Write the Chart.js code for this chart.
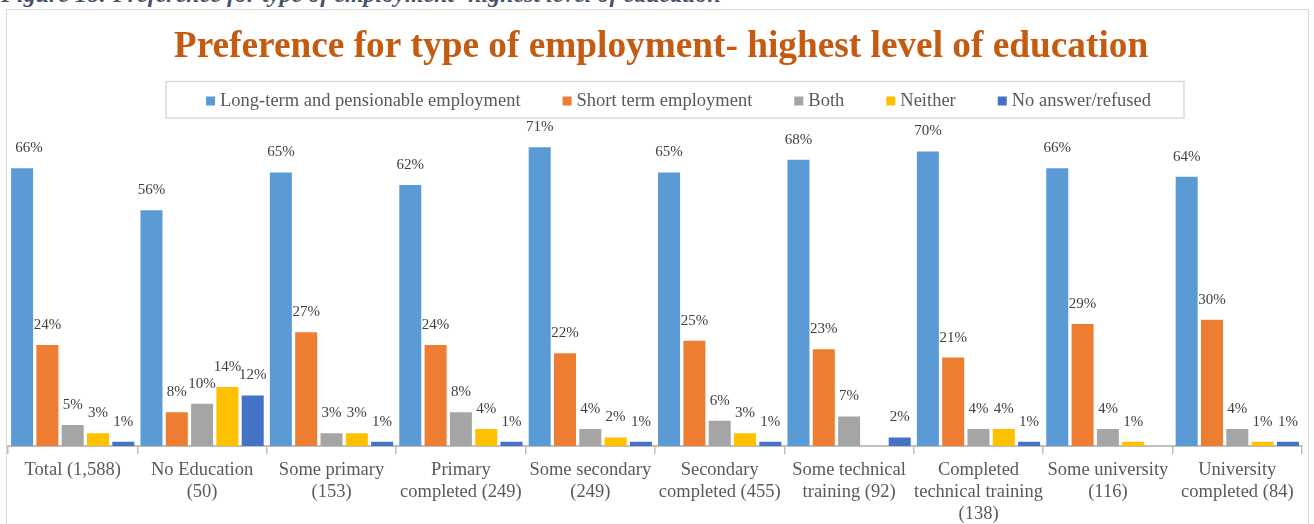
<!DOCTYPE html>
<html>
<head>
<meta charset="utf-8">
<script src="https://cdn.jsdelivr.net/npm/chart.js@4.4.1/dist/chart.umd.min.js"></script>
<style>
  body { margin: 0; width: 1314px; height: 524px; overflow: hidden; background: #fff; position: relative; }
  #caption {
    position: absolute; left: 1px; top: -19px; white-space: nowrap;
    font: italic bold 24px "Liberation Serif", serif; color: #44546A;
  }
  #frame {
    position: absolute; left: 6px; top: 9px; width: 1301px; height: 530px;
    border: 1px solid #d9d9d9;
  }
  #frame canvas { position: absolute; left: 0; top: 0; }
</style>
</head>
<body>
<div id="caption">Figure 18: Preference for type of employment- highest level of education</div>
<div id="frame"><canvas id="myChart" width="1301" height="520"></canvas></div>
<script>
// data
const categories = [
  "Total (1,588)",
  ["No Education", "(50)"],
  ["Some primary", "(153)"],
  ["Primary", "completed (249)"],
  ["Some secondary", "(249)"],
  ["Secondary", "completed (455)"],
  ["Some technical", "training (92)"],
  ["Completed", "technical training", "(138)"],
  ["Some university", "(116)"],
  ["University", "completed (84)"],
];
const seriesNames = [
  "Long-term and pensionable employment",
  "Short term employment",
  "Both",
  "Neither",
  "No answer/refused",
];
const longTerm = [66, 56, 65, 62, 71, 65, 68, 70, 66, 64];
const shortTerm = [24, 8, 27, 24, 22, 25, 23, 21, 29, 30];
const both = [5, 10, 3, 8, 4, 6, 7, 4, 4, 4];
const neither = [3, 14, 3, 4, 2, 3, null, 4, 1, 1];
const noAnswer = [1, 12, 1, 1, 1, 1, 2, 1, null, 1];

const colors = ["#5B9BD5", "#ED7D31", "#A5A5A5", "#FFC000", "#4472C4"];
const serif = "'Liberation Serif', 'Times New Roman', serif";

// value labels above the bars
const barLabels = {
  id: "barLabels",
  afterDatasetsDraw(chart) {
    const ctx = chart.ctx;
    ctx.save();
    ctx.font = "15px " + serif;
    ctx.fillStyle = "#404040";
    ctx.textAlign = "center";
    ctx.textBaseline = "middle";
    chart.data.datasets.forEach((ds, i) => {
      const meta = chart.getDatasetMeta(i);
      meta.data.forEach((bar, j) => {
        const v = ds.data[j];
        if (v == null) return;
        const x = Math.max(bar.x, chart.chartArea.left + 21);
        ctx.fillText(v + "%", x, bar.y - 20);
      });
    });
    ctx.restore();
  },
};

// boxed legend like the excel one
const boxLegend = {
  id: "boxLegend",
  afterLayout(chart) {
    // title sits a little right of centre in the original
    chart.titleBlock.left += 6;
    chart.titleBlock.right += 6;
  },
  afterDraw(chart) {
    const ctx = chart.ctx;
    const box = 9, gap = 5, space = 42, cy = 91;
    ctx.save();
    ctx.font = "18.5px " + serif;
    const widths = seriesNames.map((n) => ctx.measureText(n).width);
    const total = widths.reduce((a, b) => a + b, 0) + seriesNames.length * (box + gap) + space * (seriesNames.length - 1);
    let x = 671.5 - total / 2;
    const startX = x;
    ctx.textBaseline = "middle";
    seriesNames.forEach((n, i) => {
      ctx.fillStyle = colors[i];
      ctx.fillRect(x, cy - box / 2, box, box);
      ctx.fillStyle = "#595959";
      ctx.fillText(n, x + box + gap, cy);
      x += box + gap + widths[i] + space;
    });
    const endX = x - space;
    ctx.strokeStyle = "#d9d9d9";
    ctx.lineWidth = 1.5;
    ctx.strokeRect(startX - 40, 71.5, endX - startX + 73, 36.5);
    ctx.restore();
  },
};

const ctx = document.getElementById("myChart");

const chart = new Chart(ctx, {
  type: "bar",
  data: {
    labels: categories,
    datasets: seriesNames.map((name, i) => ({
      label: name,
      data: [longTerm, shortTerm, both, neither, noAnswer][i],
      backgroundColor: colors[i],
      borderWidth: 0,
      categoryPercentage: 0.978,
      barPercentage: 0.87,
    })),
  },
  options: {
    responsive: false,
    animation: false,
    layout: { padding: { left: 1, right: 6 } },
    plugins: {
      legend: { display: false },
      tooltip: { enabled: false },
      title: {
        display: true,
        text: "Preference for type of employment- highest level of education",
        color: "#C55A11",
        font: { family: serif, size: 37.3, weight: "bold", lineHeight: 1 },
        padding: { top: 19, bottom: 43 },
      },
    },
    scales: {
      x: {
        grid: {
          offset: true,
          drawOnChartArea: false,
          tickLength: 8,
          color: "#BFBFBF",
          lineWidth: 1.5,
        },
        border: { display: true, color: "#BFBFBF", width: 2 },
        ticks: {
          color: "#595959",
          font: { family: serif, size: 18.5, lineHeight: 1.19 },
          padding: 5,
          autoSkip: false,
          maxRotation: 0,
          minRotation: 0,
        },
      },
      y: {
        display: false,
        min: 0,
        max: 80,
      },
    },
  },
  plugins: [barLabels, boxLegend],
});
</script>
</body>
</html>
